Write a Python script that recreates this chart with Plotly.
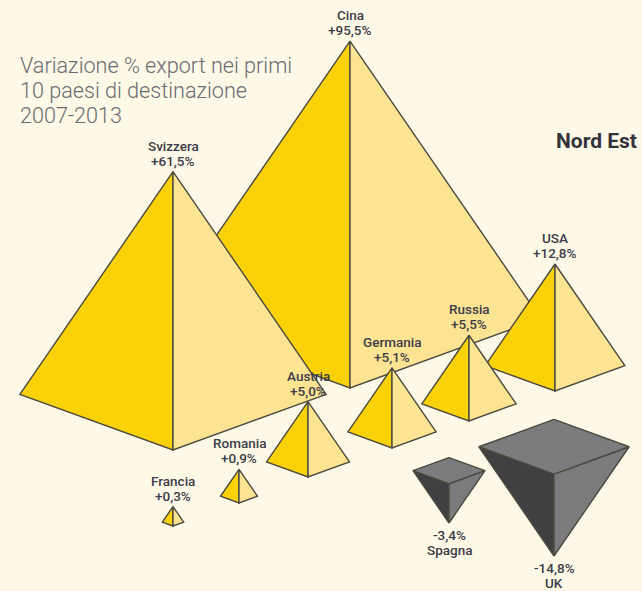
import math
import plotly.graph_objects as go

# ---- data ----
countries = ["Cina", "Svizzera", "USA", "Russia", "Germania", "Austria", "Romania", "Francia", "Spagna", "UK"]
variation = [95.5, 61.5, 12.8, 5.5, 5.1, 5.0, 0.9, 0.3, -3.4, -14.8]
title_lines = ["Variazione % export nei primi", "10 paesi di destinazione", "2007-2013"]
region = "Nord Est"

# ---- layout of the infographic, in page pixels ----
anchor_x = [350, 173, 555, 469, 392, 308, 239, 173, 449, 554]
# y of the front-bottom vertex (upright) or of the tip (inverted)
anchor_y = [388, 450, 391, 421, 448, 477, 503, 526, 523, 556]
size_tweak = [1, 1, 1, 1.03, 1, 0.95, 1, 1, 1, 1]
K = 35.5          # height = K * sqrt(|value|)
HALF_W = 0.55     # half width / height
RISE = 0.20       # depth of the base diamond (half) / height

W, H = 642, 591
BG = "#FEF9E6"
YEL, PALE = "#FBD108", "#FCE493"
DK, GR = "#404042", "#7C7C7E"
EDGE = "#4A4A40"
TXT = "#3C3C4A"
LABEL_FONT = "Roboto"

fig = go.Figure()


def poly(pts, fill):
    xs = [p[0] for p in pts] + [pts[0][0]]
    ys = [p[1] for p in pts] + [pts[0][1]]
    fig.add_trace(go.Scatter(x=xs, y=ys, mode="lines", fill="toself", fillcolor=fill,
                             line=dict(color=EDGE, width=1.4), hoverinfo="skip", showlegend=False))


def label(x, y, text):
    fig.add_annotation(x=x, y=y, text=text, showarrow=False, xanchor="center", yanchor="middle",
                       font=dict(family=LABEL_FONT, size=13.5, color=TXT, weight=500))


for name, v, cx, ay, tw in zip(countries, variation, anchor_x, anchor_y, size_tweak):
    h = K * math.sqrt(abs(v)) * tw
    hw = HALF_W * h
    txt = f"{v:+.1f}%".replace(".", ",")
    if v >= 0:
        apex = (cx, ay - h)
        corner = ay - RISE * h
        poly([apex, (cx - hw, corner), (cx, ay)], YEL)
        poly([apex, (cx + hw, corner), (cx, ay)], PALE)
        label(cx, apex[1] - 11, txt)
        label(cx, apex[1] - 26, name)
    else:
        tip = (cx, ay)
        corner = ay - (1 - RISE) * h
        front = ay - (1 - 2 * RISE) * h
        back = ay - h
        poly([tip, (cx - hw, corner), (cx, front)], DK)
        poly([tip, (cx + hw, corner), (cx, front)], GR)
        poly([(cx, back), (cx + hw, corner), (cx, front), (cx - hw, corner)], GR)
        label(cx, ay + 12, txt)
        label(cx, ay + 27, name)

for line, y in zip(title_lines, [65, 90, 115]):
    fig.add_annotation(x=18, y=y, text=line, showarrow=False, xanchor="left", yanchor="middle",
                       font=dict(family="Roboto", size=21.6, color="#6A6A72", weight=300))
fig.add_annotation(x=639, y=141, text=region, showarrow=False, xanchor="right", yanchor="middle",
                   font=dict(family="Roboto", size=21, color="#33333C", weight=700))

fig.update_layout(
    width=W, height=H, margin=dict(l=0, r=0, t=0, b=0),
    paper_bgcolor=BG, plot_bgcolor=BG, showlegend=False,
    xaxis=dict(range=[0, W], visible=False, fixedrange=True),
    yaxis=dict(range=[H, 0], visible=False, fixedrange=True),
)
fig.write_html("out.html", config=dict(displayModeBar=False),
               post_script="document.body.style.margin='0';document.body.style.background='" + BG + "';document.body.style.overflow='hidden';")
